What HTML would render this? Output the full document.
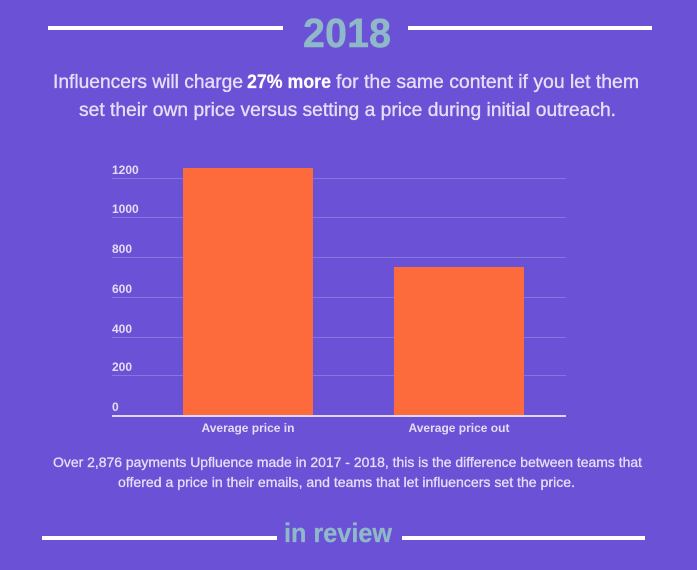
<!DOCTYPE html>
<html>
<head>
<meta charset="utf-8">
<style>
html,body{margin:0;padding:0;background:#6a51d5;}
svg{display:block;}
text{font-family:"Liberation Sans",sans-serif;}
</style>
</head>
<body>
<svg width="697" height="570" viewBox="0 0 697 570" xmlns="http://www.w3.org/2000/svg">
<rect x="0" y="0" width="697" height="570" fill="#6a51d5"/>
<!-- top header -->
<rect x="48" y="26" width="235" height="4" fill="#ffffff"/>
<rect x="408" y="26" width="244" height="4" fill="#ffffff"/>
<text x="303" y="47" font-size="41" font-weight="bold" fill="#8fb8c9" stroke="#8fb8c9" stroke-width="0.4" textLength="88" lengthAdjust="spacingAndGlyphs">2018</text>

<!-- subtitle -->
<g stroke="#e6def6" stroke-width="0.35">
<text x="53" y="88" font-size="19" fill="#e6def6" textLength="190" lengthAdjust="spacingAndGlyphs">Influencers will charge</text>
<text x="336" y="88" font-size="19" fill="#e6def6" textLength="303" lengthAdjust="spacingAndGlyphs">for the same content if you let them</text>
<text x="79" y="116" font-size="19" fill="#e6def6" textLength="537" lengthAdjust="spacingAndGlyphs">set their own price versus setting a price during initial outreach.</text>
</g>
<text x="247" y="88" font-size="19" font-weight="bold" fill="#ffffff" stroke="#ffffff" stroke-width="0.2" textLength="84" lengthAdjust="spacingAndGlyphs">27% more</text>

<!-- gridlines -->
<g stroke="#8674df" stroke-width="1">
<line x1="112" y1="178.5" x2="566" y2="178.5"/>
<line x1="112" y1="217.5" x2="566" y2="217.5"/>
<line x1="112" y1="257.5" x2="566" y2="257.5"/>
<line x1="112" y1="297.5" x2="566" y2="297.5"/>
<line x1="112" y1="337.5" x2="566" y2="337.5"/>
<line x1="112" y1="375.5" x2="566" y2="375.5"/>
</g>

<!-- y labels -->
<g font-size="12" fill="#e4dcf5" font-weight="bold">
<text x="112" y="174">1200</text>
<text x="112" y="213">1000</text>
<text x="112" y="253">800</text>
<text x="112" y="293">600</text>
<text x="112" y="333">400</text>
<text x="112" y="371">200</text>
<text x="112" y="411">0</text>
</g>

<!-- bars -->
<rect x="183" y="168" width="130" height="248" fill="#fd6a3b"/>
<rect x="394" y="267" width="130" height="149" fill="#fd6a3b"/>

<!-- axis -->
<rect x="112" y="415" width="454" height="2" fill="#e0d6f5"/>

<!-- x labels -->
<g font-size="12" fill="#e4dcf5" font-weight="bold" text-anchor="middle">
<text x="248" y="432">Average price in</text>
<text x="459" y="432">Average price out</text>
</g>

<!-- caption -->
<g stroke="#e6def6" stroke-width="0.3">
<text x="53" y="467" font-size="14" fill="#e6def6" textLength="589" lengthAdjust="spacingAndGlyphs">Over 2,876 payments Upfluence made in 2017 - 2018, this is the difference between teams that</text>
<text x="118" y="487" font-size="14" fill="#e6def6" textLength="457" lengthAdjust="spacingAndGlyphs">offered a price in their emails, and teams that let influencers set the price.</text>
</g>

<!-- bottom header -->
<rect x="42" y="536" width="235" height="4" fill="#ffffff"/>
<rect x="402" y="536" width="243" height="4" fill="#ffffff"/>
<text x="284" y="542" font-size="27" font-weight="bold" fill="#8fb8c9" stroke="#8fb8c9" stroke-width="0.3" textLength="108" lengthAdjust="spacingAndGlyphs">in review</text>
</svg>
</body>
</html>
